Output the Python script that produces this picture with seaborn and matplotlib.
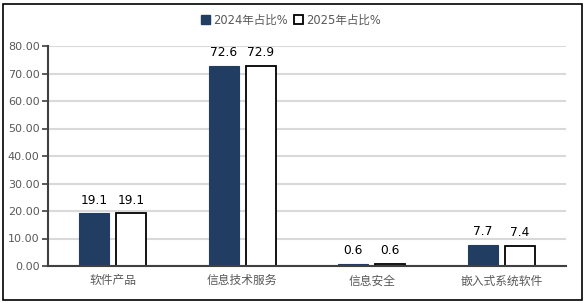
import matplotlib
matplotlib.use("Agg")
import matplotlib.pyplot as plt
import seaborn as sns
import pandas as pd
from matplotlib.patches import Rectangle, Patch

categories = ["软件产品", "信息技术服务", "信息安全", "嵌入式系统软件"]
series_names = ["2024年占比%", "2025年占比%"]
values_2024 = [19.1, 72.6, 0.6, 7.7]
values_2025 = [19.1, 72.9, 0.6, 7.4]
y_ticks = [0, 10, 20, 30, 40, 50, 60, 70, 80]

navy = "#213D61"
gray_text = "#595959"

sns.set_theme(style="white")
plt.rcParams["font.family"] = ["DejaVu Sans", "Noto Sans CJK SC"]

df = pd.DataFrame({
    "cat": categories * 2,
    "val": values_2024 + values_2025,
    "year": [series_names[0]] * 4 + [series_names[1]] * 4,
})

fig = plt.figure(figsize=(5.84, 3.03), dpi=100)
ax = fig.add_axes([48 / 584, 1 - 266 / 303, (566 - 48) / 584, (266 - 46) / 303])

sns.barplot(data=df, x="cat", y="val", hue="year", order=categories,
            hue_order=series_names, palette=[navy, "white"], saturation=1,
            width=0.57, gap=0.19, ax=ax, legend=False, errorbar=None)

for i, cont in enumerate(ax.containers):
    for p in cont:
        if i == 0:
            p.set_edgecolor(navy)
            p.set_linewidth(0.8)
        else:
            p.set_edgecolor("black")
            p.set_linewidth(1.3)
    ax.bar_label(cont, labels=[f"{v:.1f}" for v in cont.datavalues],
                 padding=5, fontsize=8.8, color="black")

ax.set_xlim(-0.5, 3.5)
ax.set_ylim(0, 80)
ax.set_yticks(y_ticks)
ax.set_yticklabels([f"{t:.2f}" for t in y_ticks], color=gray_text, fontsize=8)
ax.set_xticks(range(4))
ax.set_xticklabels(categories, fontsize=8.5, color=gray_text,
                   family=["Noto Sans CJK SC", "DejaVu Sans"])
ax.set_xticks([-0.5, 0.5, 1.5, 2.5, 3.5], minor=True)
ax.tick_params(axis="x", which="major", length=0, pad=6)
ax.tick_params(axis="x", which="minor", length=4, direction="in",
               width=1.2, color="#404040")
ax.tick_params(axis="y", length=4, direction="out", width=1.2,
               color="#404040", pad=2, left=True)
ax.set_xlabel("")
ax.set_ylabel("")

ax.yaxis.grid(True, color="#D9D9D9", linewidth=1.5)
ax.set_axisbelow(True)
for s in ["top", "right"]:
    ax.spines[s].set_visible(False)
for s in ["left", "bottom"]:
    ax.spines[s].set_color("#404040")
    ax.spines[s].set_linewidth(1.5)

handles = [Patch(facecolor=navy, edgecolor=navy),
           Patch(facecolor="white", edgecolor="black", linewidth=1.3)]
leg = fig.legend(handles, series_names, loc="center", bbox_to_anchor=(0.498, 0.934),
                 ncol=2, frameon=False, handlelength=0.8,
                 handleheight=0.8, handletextpad=0.3, columnspacing=0.5,
                 prop={"family": ["DejaVu Sans", "Noto Sans CJK SC"], "size": 8.3})
for t in leg.get_texts():
    t.set_color(gray_text)

fig.patches.append(Rectangle((2.5 / 584, 3 / 303), 579 / 584, 296 / 303,
                             transform=fig.transFigure, fill=False,
                             edgecolor="black", linewidth=1.2))

fig.savefig("out.png", dpi=100)
